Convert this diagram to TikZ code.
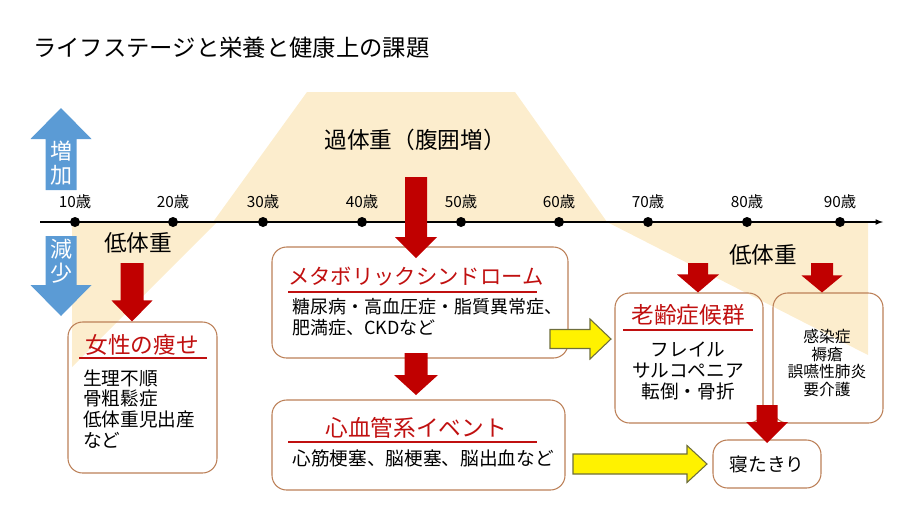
\documentclass[tikz,border=0pt]{standalone}
\usepackage{fontspec}
\setmainfont{Noto Sans CJK JP}
\usepackage{tikz}
\usetikzlibrary{calc,fit,arrows}
\usepackage{xcolor}

\definecolor{tanbg}{RGB}{252,237,205}
\definecolor{boxline}{RGB}{188,128,88}
\definecolor{titlered}{RGB}{192,16,16}
\definecolor{arrowred}{RGB}{192,0,0}
\definecolor{skyblue}{RGB}{91,155,213}
\definecolor{arrowedge}{RGB}{110,110,60}

% block arrow: [style]{from}{to}{half shaft}{half head}{head length}, sizes in px
\newcommand{\blockarrow}[6][]{%
  \path ($(#3)!#6*0.75pt!(#2)$) coordinate (ba-h);
  \filldraw[#1] ($(#2)!#4*0.75pt!90:(#3)$) -- ($(ba-h)!#4*0.75pt!90:(#3)$)
    -- ($(ba-h)!#5*0.75pt!90:(#3)$) -- (#3) -- ($(ba-h)!#5*0.75pt!-90:(#3)$)
    -- ($(ba-h)!#4*0.75pt!-90:(#3)$) -- ($(#2)!#4*0.75pt!-90:(#3)$) -- cycle;}

\begin{document}
\begin{tikzpicture}[x=0.75pt, y=-0.75pt,
    card/.style={draw=boxline, line width=0.8pt, rounded corners=11pt, inner sep=0pt},
    cardtitle/.style={text=titlered, font=\fontsize{17}{20}\selectfont, inner sep=0pt},
    cardtext/.style={font=\fontsize{14}{15.6}\selectfont, inner sep=0pt},
    smalltext/.style={font=\fontsize{11.8}{13.3}\selectfont, inner sep=0pt, align=center},
    titlerule/.style={draw=titlered, line width=1pt},
    agedot/.style={circle, fill=black, inner sep=0pt, minimum size=7.5pt},
    agelabel/.style={font=\fontsize{11.5}{13}\selectfont, inner sep=0pt},
    weightlabel/.style={font=\fontsize{17}{20}\selectfont, inner sep=0pt},
    redarrow/.style={fill=arrowred, draw=none},
    yellowarrow/.style={fill=yellow, draw=arrowedge, line width=0.8pt},
    bluearrow/.style={fill=skyblue, draw=none},
    bluetext/.style={text=white, font=\fontsize{16.5}{18}\selectfont, inner sep=0pt}]

\useasboundingbox (0,0) rectangle (910,522);

% weight zones
\fill[tanbg] (213,222) -- (307,92) -- (515,92) -- (607,222) -- cycle;
\fill[tanbg] (72,222) -- (217,222) -- (72,367) -- cycle;
\fill[tanbg] (607,222) -- (868,222) -- (868,355) -- cycle;

\node[anchor=west, inner sep=0pt, font=\fontsize{17.5}{20}\selectfont] (title) at (33,48)
  {ライフステージと栄養と健康上の課題};

% increase / decrease
\coordinate (upB) at (61,190);
\coordinate (upT) at (61,108);
\coordinate (dnT) at (61,236);
\coordinate (dnB) at (61,316);
\blockarrow[bluearrow]{upB}{upT}{15.5}{30.5}{31}
\blockarrow[bluearrow]{dnT}{dnB}{15.5}{30.5}{31}
\node[bluetext] (inc1) at (61,151) {増};
\node[bluetext] (inc2) at (61,175) {加};
\node[bluetext] (dec1) at (61,249) {減};
\node[bluetext] (dec2) at (61,273) {少};

% age axis
\coordinate (axL) at (40,222);
\coordinate (axR) at (883,222);
\draw[line width=0.9pt, -latex] (axL) -- (axR);
\foreach \x/\a in {75/10,173/20,263/30,362/40,461/50,559/60,648/70,747/80,840/90}{
  \node[agedot] (d\a) at (\x,222) {};
  \node[agelabel] (l\a) at (\x,202) {\a{}歳};
}

\node[weightlabel] (over) at (415,140) {過体重（腹囲増）};
\node[weightlabel] (underL) at (138,243) {低体重};
\node[weightlabel] (underR) at (763,255) {低体重};

% boxes
\node[card, fit={(68,322) (217,473)}] (thin) {};
\node[cardtitle] (thinT) at (142,345) {女性の痩せ};
\draw[titlerule] (79,358) -- (207,358);
\node[cardtext, anchor=west, align=left] (thinB) at (83,409)
  {生理不順\\骨粗鬆症\\低体重児出産\\など};

\node[card, fit={(272,247) (568,358)}] (meta) {};
\node[cardtitle, font=\fontsize{16}{20}\selectfont] (metaT) at (416,277) {メタボリックシンドローム};
\draw[titlerule] (288,292) -- (537,292);
\node[cardtext, anchor=west, align=left, font=\fontsize{13.5}{15.75}\selectfont] (metaB) at (292,317.5)
  {糖尿病・高血圧症・脂質異常症、\\肥満症、CKDなど};

\node[card, fit={(272,400) (565,490)}] (cardio) {};
\node[cardtitle] (cardioT) at (416,428) {心血管系イベント};
\draw[titlerule] (288,442) -- (537,442);
\node[cardtext] (cardioB) at (423,458) {心筋梗塞、脳梗塞、脳出血など};

\node[card, fit={(615,293) (763,423)}] (geri) {};
\node[cardtitle] (geriT) at (688,315) {老齢症候群};
\draw[titlerule] (623,330) -- (753,330);
\node[cardtext, align=center] (geriB) at (688,371) {フレイル\\サルコペニア\\転倒・骨折};

\node[card, fit={(773,293) (883,423)}] (infect) {};
\node[smalltext] (infectB) at (827,363) {感染症\\褥瘡\\誤嚥性肺炎\\要介護};

\node[card, fit={(713,440) (821,488)}] (bed) {};
\node[cardtext] (bedT) at (767,464) {寝たきり};

% arrows
\coordinate (a1s) at (132,263);
\coordinate (a2s) at (416,177);
\coordinate (a2e) at (416,258);
\coordinate (a3s) at (416,353);
\coordinate (a3e) at (416,395);
\coordinate (a4s) at (698,263);
\coordinate (a5s) at (822,263);
\coordinate (a6s) at (767,405);
\coordinate (a6e) at (767,443);
\blockarrow[redarrow]{a1s}{a1s |- thin.north}{11.5}{20.5}{21}
\blockarrow[redarrow]{a2s}{a2e}{11}{21}{21}
\blockarrow[redarrow]{a3s}{a3e}{11.5}{22}{20}
\blockarrow[redarrow]{a4s}{a4s |- geri.north}{10}{21}{18}
\blockarrow[redarrow]{a5s}{a5s |- infect.north}{11}{20.5}{17}
\blockarrow[redarrow]{a6s}{a6e}{10.5}{21}{21}

\coordinate (y1s) at (550,339);
\coordinate (y1e) at (611,339);
\coordinate (y2s) at (573,464);
\coordinate (y2e) at (707,464);
\blockarrow[yellowarrow]{y1s}{y1e}{9.5}{20}{21}
\blockarrow[yellowarrow]{y2s}{y2e}{10}{18.5}{20}
\end{tikzpicture}
\end{document}
